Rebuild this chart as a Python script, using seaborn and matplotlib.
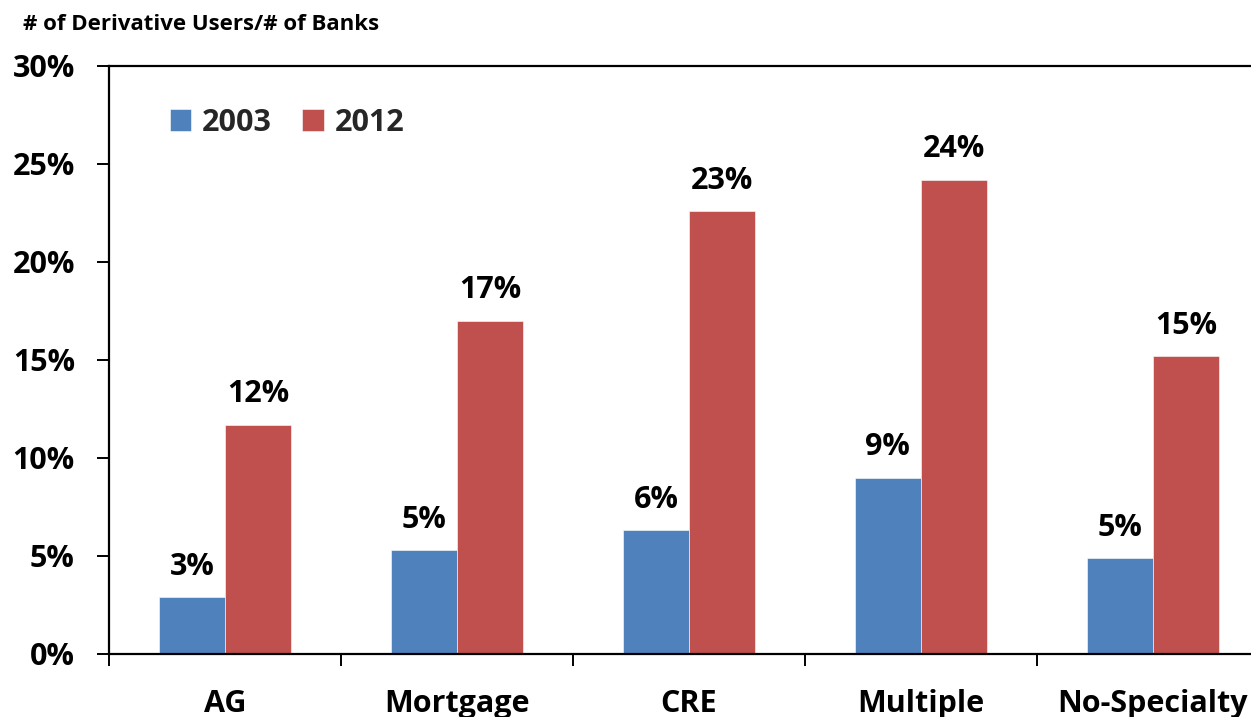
import matplotlib
matplotlib.use("Agg")
import matplotlib.pyplot as plt
import seaborn as sns
import pandas as pd
from matplotlib.ticker import FuncFormatter, MultipleLocator

categories = ["AG", "Mortgage", "CRE", "Multiple", "No-Specialty"]
years = ["2003", "2012"]
share_2003 = [2.9, 5.3, 6.3, 9.0, 4.9]
share_2012 = [11.7, 17.0, 22.6, 24.2, 15.2]
colors = {"2003": "#4F81BD", "2012": "#C0504D"}

df = pd.DataFrame({
    "category": categories * 2,
    "year": ["2003"] * len(categories) + ["2012"] * len(categories),
    "share": share_2003 + share_2012,
})

sns.set_theme(style="white")
plt.rcParams["font.family"] = ["Open Sans", "DejaVu Sans"]
plt.rcParams["font.weight"] = "bold"

fig = plt.figure(figsize=(12.51, 7.17), dpi=100)
ax = fig.add_axes([0.0871, 0.0879, 1.0144 - 0.0871, 0.908 - 0.0879])

sns.barplot(data=df, x="category", y="share", hue="year", hue_order=years,
            palette=colors, width=0.57, saturation=1, ax=ax,
            edgecolor="white", linewidth=0.4)

FS = 22
for container in ax.containers:
    ax.bar_label(container, labels=[f"{v:.0f}%" for v in container.datavalues],
                 padding=11, fontsize=FS, fontweight="bold", color="black")

ax.set_ylim(0, 30)
ax.set_xlim(-0.5, len(categories) - 0.5)
ax.yaxis.set_major_locator(MultipleLocator(5))
ax.yaxis.set_major_formatter(FuncFormatter(lambda v, _: f"{v:.0f}%"))
ax.set_xlabel("")
ax.set_ylabel("")

for side in ["left", "bottom", "top"]:
    ax.spines[side].set_visible(True)
    ax.spines[side].set_color("black")
    ax.spines[side].set_linewidth(1.6)
ax.spines["right"].set_visible(False)

ax.tick_params(axis="y", which="major", direction="out", length=8.5, width=1.4,
               color="black", left=True, pad=16, labelsize=FS, labelcolor="black")
ax.set_xticks(range(len(categories)))
ax.set_xticklabels(categories)
ax.set_xticks([i - 0.5 for i in range(len(categories))], minor=True)
ax.tick_params(axis="x", which="major", length=0, pad=25, labelsize=FS,
               labelcolor="black")
ax.tick_params(axis="x", which="minor", direction="out", length=8.5, width=1.4,
               color="black", bottom=True)
for lbl in ax.get_xticklabels() + ax.get_yticklabels():
    lbl.set_fontweight("bold")

leg = ax.legend(loc="upper left", bbox_to_anchor=(0.042, 0.95), ncol=2,
                frameon=False, fontsize=FS, handlelength=0.7, handleheight=0.7,
                handletextpad=0.35, columnspacing=1.0, borderaxespad=0)
for t in leg.get_texts():
    t.set_fontweight("bold")

fig.text(0.018, 0.966, "# of Derivative Users/# of Banks", fontsize=16,
         fontweight="bold", color="black", va="center", ha="left")

fig.savefig("out.png", dpi=100)
